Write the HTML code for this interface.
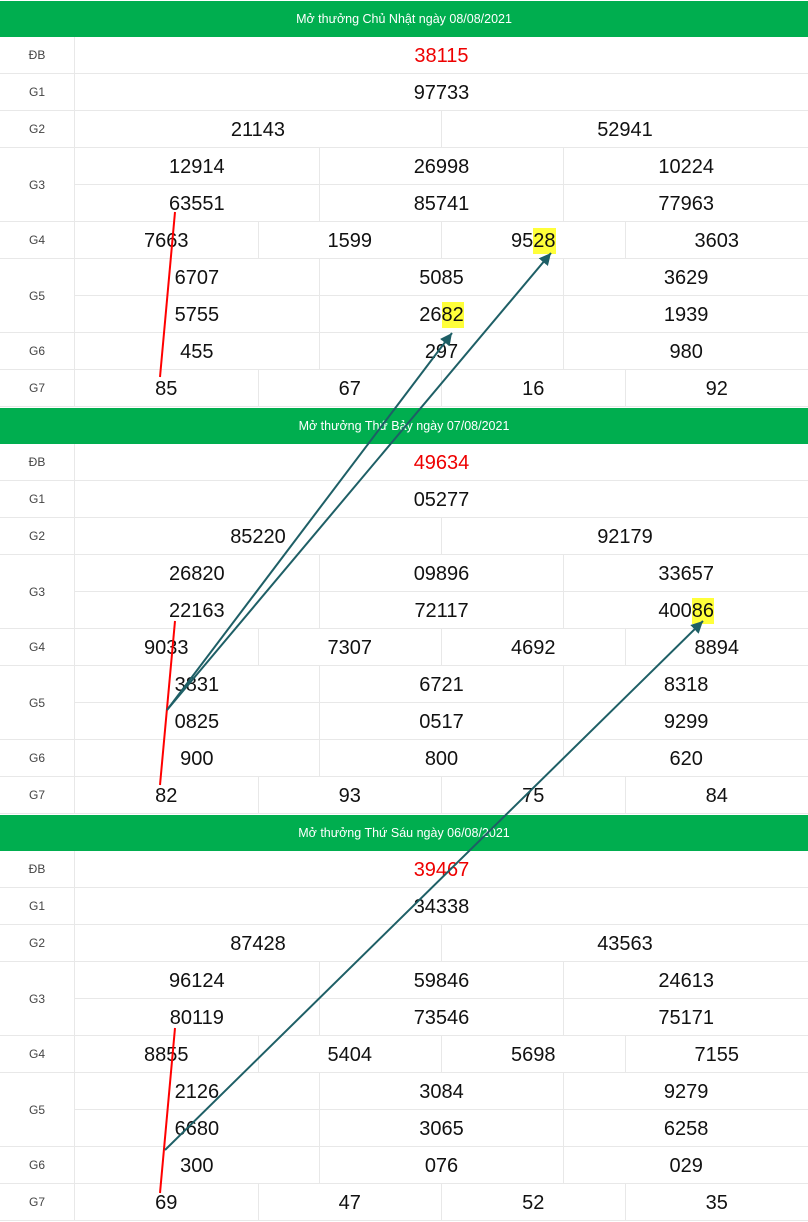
<!DOCTYPE html>
<html><head><meta charset="utf-8"><style>
*{margin:0;padding:0;box-sizing:border-box}
body{width:808px;height:1222px;background:#fff;font-family:"Liberation Sans",sans-serif;position:relative;overflow:hidden}
.h{height:37px;background:#00ae4f;color:#fff;font-size:12.5px;text-align:center;line-height:37px;border-top:1px solid #fff}
.r{display:flex;height:37px;border-bottom:1px solid #e8e8e8}
.l{width:75px;border-right:1px solid #e8e8e8;font-size:12px;color:#444;display:flex;align-items:center;justify-content:center}
.c{flex:1;display:flex;align-items:center;justify-content:center;font-size:20px;color:#111;border-right:1px solid #e8e8e8;padding-top:3px}
.c:last-child{border-right:none}
.red{color:#e00}
.d{display:flex;height:74px;border-bottom:1px solid #e8e8e8}
.d .l{height:100%}
.sub{flex:1;display:flex;flex-direction:column}
.sub .r{height:37px}
.sub .r:last-child{border-bottom:none;height:36px}
.y{background:#ffff3a;display:inline-block;line-height:26px;height:26px;margin-top:-2px}
svg{position:absolute;left:0;top:0}
</style></head><body>

<div class="h">Mở thưởng Chủ Nhật ngày 08/08/2021</div>
<div class="r"><div class="l">ĐB</div><div class="c red">38115</div></div>
<div class="r"><div class="l">G1</div><div class="c">97733</div></div>
<div class="r"><div class="l">G2</div><div class="c">21143</div><div class="c">52941</div></div>
<div class="d"><div class="l">G3</div><div class="sub"><div class="r"><div class="c">12914</div><div class="c">26998</div><div class="c">10224</div></div><div class="r"><div class="c">63551</div><div class="c">85741</div><div class="c">77963</div></div></div></div>
<div class="r"><div class="l">G4</div><div class="c">7663</div><div class="c">1599</div><div class="c">95<span class="y">28</span></div><div class="c">3603</div></div>
<div class="d"><div class="l">G5</div><div class="sub"><div class="r"><div class="c">6707</div><div class="c">5085</div><div class="c">3629</div></div><div class="r"><div class="c">5755</div><div class="c">26<span class="y">82</span></div><div class="c">1939</div></div></div></div>
<div class="r"><div class="l">G6</div><div class="c">455</div><div class="c">297</div><div class="c">980</div></div>
<div class="r"><div class="l">G7</div><div class="c">85</div><div class="c">67</div><div class="c">16</div><div class="c">92</div></div>

<div class="h">Mở thưởng Thứ Bảy ngày 07/08/2021</div>
<div class="r"><div class="l">ĐB</div><div class="c red">49634</div></div>
<div class="r"><div class="l">G1</div><div class="c">05277</div></div>
<div class="r"><div class="l">G2</div><div class="c">85220</div><div class="c">92179</div></div>
<div class="d"><div class="l">G3</div><div class="sub"><div class="r"><div class="c">26820</div><div class="c">09896</div><div class="c">33657</div></div><div class="r"><div class="c">22163</div><div class="c">72117</div><div class="c">400<span class="y">86</span></div></div></div></div>
<div class="r"><div class="l">G4</div><div class="c">9033</div><div class="c">7307</div><div class="c">4692</div><div class="c">8894</div></div>
<div class="d"><div class="l">G5</div><div class="sub"><div class="r"><div class="c">3831</div><div class="c">6721</div><div class="c">8318</div></div><div class="r"><div class="c">0825</div><div class="c">0517</div><div class="c">9299</div></div></div></div>
<div class="r"><div class="l">G6</div><div class="c">900</div><div class="c">800</div><div class="c">620</div></div>
<div class="r"><div class="l">G7</div><div class="c">82</div><div class="c">93</div><div class="c">75</div><div class="c">84</div></div>

<div class="h">Mở thưởng Thứ Sáu ngày 06/08/2021</div>
<div class="r"><div class="l">ĐB</div><div class="c red">39467</div></div>
<div class="r"><div class="l">G1</div><div class="c">34338</div></div>
<div class="r"><div class="l">G2</div><div class="c">87428</div><div class="c">43563</div></div>
<div class="d"><div class="l">G3</div><div class="sub"><div class="r"><div class="c">96124</div><div class="c">59846</div><div class="c">24613</div></div><div class="r"><div class="c">80119</div><div class="c">73546</div><div class="c">75171</div></div></div></div>
<div class="r"><div class="l">G4</div><div class="c">8855</div><div class="c">5404</div><div class="c">5698</div><div class="c">7155</div></div>
<div class="d"><div class="l">G5</div><div class="sub"><div class="r"><div class="c">2126</div><div class="c">3084</div><div class="c">9279</div></div><div class="r"><div class="c">6680</div><div class="c">3065</div><div class="c">6258</div></div></div></div>
<div class="r"><div class="l">G6</div><div class="c">300</div><div class="c">076</div><div class="c">029</div></div>
<div class="r"><div class="l">G7</div><div class="c">69</div><div class="c">47</div><div class="c">52</div><div class="c">35</div></div>

<svg width="808" height="1222">
<defs><marker id="a" markerWidth="8" markerHeight="8" refX="6" refY="3" orient="auto"><path d="M0,0 L6,3 L0,6 Z" fill="#1e5f66"/></marker></defs>
<g stroke="#f00" stroke-width="2">
<line x1="175" y1="212" x2="160" y2="377"/>
<line x1="175" y1="621" x2="160" y2="785"/>
<line x1="175" y1="1028" x2="160" y2="1193"/>
</g>
<g stroke="#1e5f66" stroke-width="2" marker-end="url(#a)">
<line x1="167" y1="710" x2="452" y2="333"/>
<line x1="167" y1="710" x2="551" y2="253"/>
<line x1="165" y1="1150" x2="703" y2="621"/>
</g>
</svg>
</body></html>
